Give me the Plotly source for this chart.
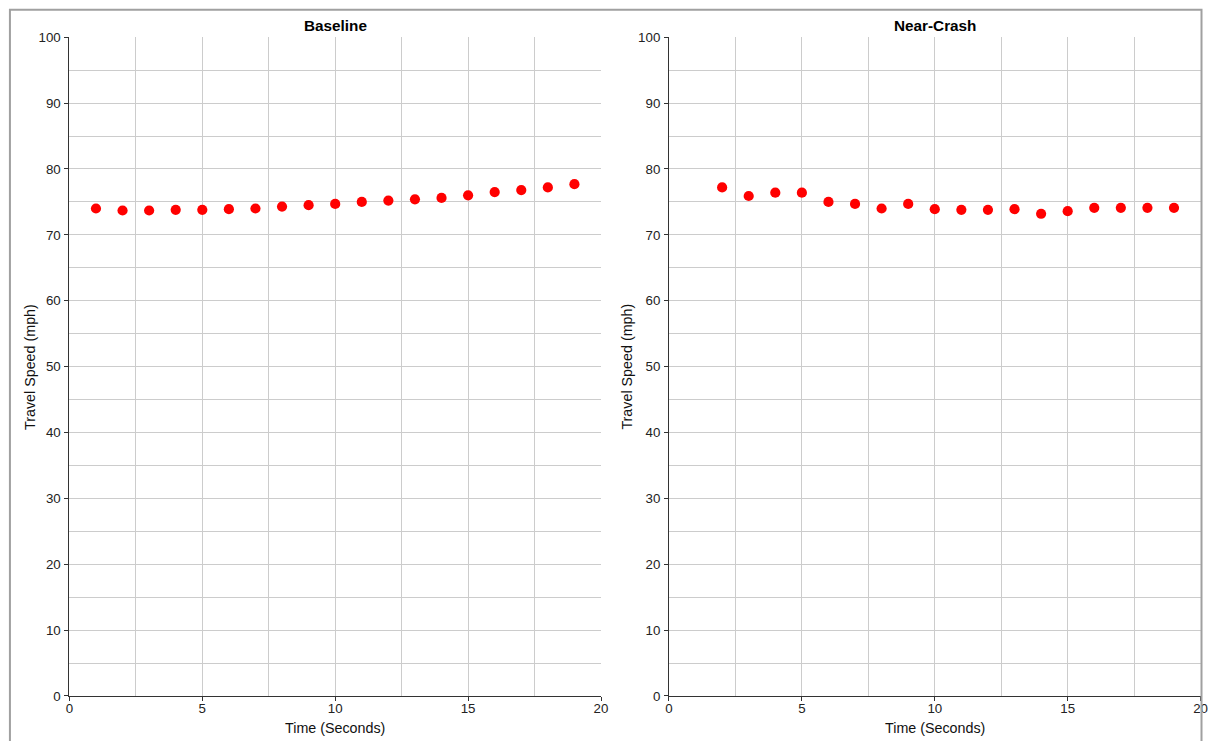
import plotly.graph_objects as go

W, H = 1209, 741

baseline_time = list(range(1, 20))
baseline_speed = [74.0, 73.7, 73.7, 73.8, 73.8, 73.9, 74.0, 74.3, 74.5, 74.7,
                  75.0, 75.2, 75.4, 75.6, 76.0, 76.5, 76.8, 77.2, 77.7]
near_time = list(range(2, 20))
near_speed = [77.2, 75.9, 76.4, 76.4, 75.0, 74.7, 74.0, 74.7, 73.9, 73.8,
              73.8, 73.9, 73.2, 73.6, 74.1, 74.1, 74.1, 74.1]
panel_titles = ["Baseline", "Near-Crash"]
x_title = "Time (Seconds)"
y_title = "Travel Speed (mph)"

FONT = "Liberation Sans, Arial, sans-serif"
GRID = "#cccccc"
AXIS = "#333333"

# empirical correction of the capture (rendered = a*page + b)
AX, BX = 0.9916, 2.57
AY, BY = 0.9787, 6.79


def px(x):
    return ((x - BX) / AX) / W


def py(y):
    return 1 - ((y - BY) / AY) / H


fig = go.Figure()
fig.add_trace(go.Scatter(x=baseline_time, y=baseline_speed, mode="markers",
                         marker=dict(color="#ff0000", size=10.2), xaxis="x", yaxis="y",
                         showlegend=False, hoverinfo="x+y"))
fig.add_trace(go.Scatter(x=near_time, y=near_speed, mode="markers",
                         marker=dict(color="#ff0000", size=10.2), xaxis="x2", yaxis="y2",
                         showlegend=False, hoverinfo="x+y"))

xd1 = [px(68), px(600)]
xd2 = [px(668), px(1200)]
yd = [py(695), py(37)]


def xaxis(domain, anchor):
    return dict(domain=domain, anchor=anchor, range=[0, 20], dtick=5, tick0=0,
                showgrid=True, gridcolor=GRID, gridwidth=1,
                minor=dict(dtick=2.5, showgrid=True, gridcolor=GRID, gridwidth=1, ticklen=0),
                showline=True, linecolor=AXIS, linewidth=1,
                ticks="outside", ticklen=4, tickcolor=AXIS, ticklabelstandoff=-4,
                tickfont=dict(family=FONT, size=13.3, color="#222"),
                zeroline=False, fixedrange=True)


def yaxis(domain, anchor):
    return dict(domain=domain, anchor=anchor, range=[0, 100], dtick=10, tick0=0,
                showgrid=True, gridcolor=GRID, gridwidth=1,
                minor=dict(dtick=5, showgrid=True, gridcolor=GRID, gridwidth=1, ticklen=0),
                showline=True, linecolor=AXIS, linewidth=1,
                ticks="outside", ticklen=4, tickcolor=AXIS, ticklabelstandoff=1,
                tickfont=dict(family=FONT, size=13.3, color="#222"),
                zeroline=False, fixedrange=True)


fig.update_layout(
    width=W, height=H,
    margin=dict(l=0, r=0, t=0, b=0),
    paper_bgcolor="white", plot_bgcolor="white",
    xaxis=xaxis(xd1, "y"), yaxis=yaxis(yd, "x"),
    xaxis2=xaxis(xd2, "y2"), yaxis2=yaxis(yd, "x2"),
    font=dict(family=FONT),
)

for t, d, yl in zip(panel_titles, [xd1, xd2], [28, 626]):
    cx = (d[0] + d[1]) / 2
    fig.add_annotation(text="<b>%s</b>" % t, x=cx, y=py(25),
                       xref="paper", yref="paper", showarrow=False,
                       font=dict(family=FONT, size=15.3, color="#000"),
                       xanchor="center", yanchor="middle")
    fig.add_annotation(text=x_title, x=cx, y=py(727),
                       xref="paper", yref="paper", showarrow=False,
                       font=dict(family=FONT, size=14.3, color="#111"),
                       xanchor="center", yanchor="middle")
    fig.add_annotation(text=y_title, x=px(yl), y=(yd[0] + yd[1]) / 2, textangle=-90,
                       xref="paper", yref="paper", showarrow=False,
                       font=dict(family=FONT, size=14.3, color="#111"),
                       xanchor="center", yanchor="middle")

fig.add_shape(type="rect", xref="paper", yref="paper",
              x0=px(8.5), x1=min(px(1207), 1208.5 / W), y0=-0.05, y1=py(9.5),
              line=dict(color="#a0a0a0", width=2), fillcolor="rgba(0,0,0,0)", layer="above")

fig.write_html("out.html", config={"displayModeBar": False},
               post_script="document.body.style.margin='0';document.body.style.overflow='hidden';"
                           "document.documentElement.style.overflow='hidden';")
